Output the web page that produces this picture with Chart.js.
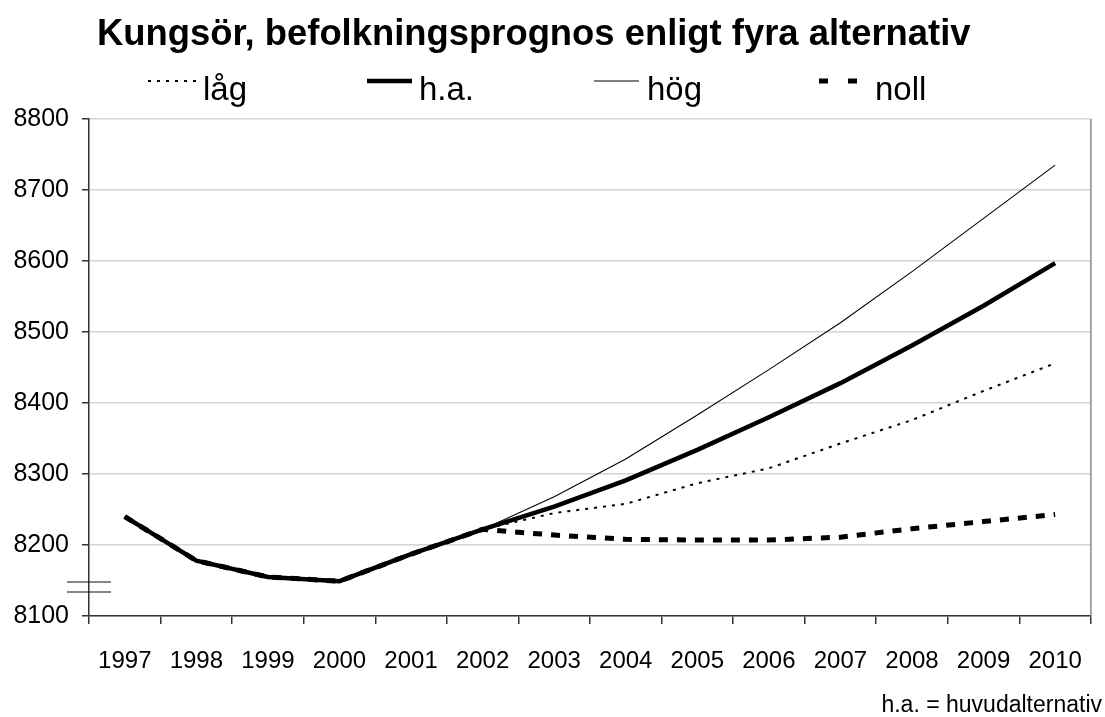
<!DOCTYPE html>
<html lang="sv">
<head>
<meta charset="utf-8">
<title>Kungsör, befolkningsprognos</title>
<script src="https://cdn.jsdelivr.net/npm/chart.js@4"></script>
<style>
  html, body { margin: 0; padding: 0; background: #fff; }
  canvas { display: block; }
</style>
</head>
<body>
<canvas id="chart" width="1105" height="717"></canvas>
<script>
// Data
const years = ["1997", "1998", "1999", "2000", "2001", "2002", "2003",
               "2004", "2005", "2006", "2007", "2008", "2009", "2010"];
const lag  = [8240, 8178, 8155, 8149, 8187, 8222, 8245, 8258, 8287, 8308, 8343, 8376, 8417, 8456];
const ha   = [8240, 8178, 8155, 8149, 8187, 8222, 8254, 8291, 8334, 8380, 8428, 8481, 8537, 8597];
const hog  = [8240, 8178, 8155, 8149, 8187, 8222, 8268, 8321, 8383, 8447, 8513, 8585, 8660, 8735];
const noll = [8240, 8178, 8155, 8149, 8187, 8222, 8214, 8208, 8207, 8207, 8211, 8223, 8233, 8243];
const yMin = 8100, yMax = 8800, yStep = 100;

const FONT = '"Liberation Sans", Arial, sans-serif';

// title, legend, footnote, axis break and right border
const decorations = {
  id: "decorations",
  afterDraw(chart) {
    const c = chart.ctx;
    const area = chart.chartArea;
    c.save();

    // title
    c.fillStyle = "#000";
    c.font = "bold 36.4px " + FONT;
    c.textAlign = "left";
    c.textBaseline = "alphabetic";
    c.fillText("Kungsör, befolkningsprognos enligt fyra alternativ", 97, 45);

    // legend
    const items = [
      { text: "låg",  x1: 148, x2: 198, tx: 203, width: 2,   dash: [3, 6] },
      { text: "h.a.", x1: 367, x2: 412, tx: 419, width: 4.5, dash: [] },
      { text: "hög",  x1: 594, x2: 639, tx: 647, width: 1.2, dash: [] },
      { text: "noll", x1: 819, x2: 858, tx: 875, width: 5,   dash: [9, 20] },
    ];
    c.font = "33px " + FONT;
    items.forEach((it) => {
      c.beginPath();
      c.setLineDash(it.dash);
      c.lineWidth = it.width;
      c.strokeStyle = "#000";
      c.moveTo(it.x1, 81);
      c.lineTo(it.x2, 81);
      c.stroke();
      c.setLineDash([]);
      c.fillText(it.text, it.tx, 100);
    });

    // footnote
    c.font = "23px " + FONT;
    c.textAlign = "right";
    c.fillText("h.a. = huvudalternativ", 1102, 712);

    // right border of the plot
    c.beginPath();
    c.lineWidth = 1.5;
    c.strokeStyle = "#8c8c8c";
    c.moveTo(area.right, area.top);
    c.lineTo(area.right, area.bottom);
    c.stroke();

    // axis break marks
    c.beginPath();
    c.lineWidth = 1.2;
    c.strokeStyle = "#111";
    c.moveTo(67, 582); c.lineTo(111, 582);
    c.moveTo(67, 592); c.lineTo(111, 592);
    c.stroke();

    c.restore();
  },
};

new Chart(document.getElementById("chart"), {
  type: "line",
  data: {
    labels: years,
    datasets: [
      { label: "noll", data: noll, borderColor: "#000", borderWidth: 5, borderDash: [9, 9] },
      { label: "låg",  data: lag,  borderColor: "#000", borderWidth: 2, borderDash: [3, 6] },
      { label: "hög",  data: hog,  borderColor: "#000", borderWidth: 1.1 },
      { label: "h.a.", data: ha,   borderColor: "#000", borderWidth: 4.5 },
    ],
  },
  options: {
    responsive: false,
    animation: false,
    devicePixelRatio: 1,
    elements: {
      point: { radius: 0 },
      line: { tension: 0, borderCapStyle: "butt" },
    },
    layout: { padding: { top: 119, right: 5, bottom: 41, left: 0 } },
    plugins: {
      legend: { display: false },
      title: { display: false },
      tooltip: { enabled: false },
    },
    scales: {
      x: {
        offset: true,
        afterFit: (scale) => { scale.height = 60; },
        grid: {
          offset: true,
          drawOnChartArea: false,
          tickLength: 8,
          tickColor: "#333",
          lineWidth: 1.5,
        },
        border: { color: "#333", width: 1.5 },
        ticks: {
          color: "#000",
          font: { family: FONT, size: 24 },
          padding: 23,
          maxRotation: 0,
          autoSkip: false,
        },
      },
      y: {
        min: yMin,
        max: yMax,
        afterFit: (scale) => { scale.width = 89; },
        grid: {
          color: "#d4d4d4",
          lineWidth: 1.5,
          tickLength: 7,
          tickColor: "#333",
        },
        border: { color: "#333", width: 1.5 },
        ticks: {
          stepSize: yStep,
          color: "#000",
          font: { family: FONT, size: 25 },
          padding: 13,
          callback: (value) => String(value),
        },
      },
    },
  },
  plugins: [decorations],
});
</script>
</body>
</html>
